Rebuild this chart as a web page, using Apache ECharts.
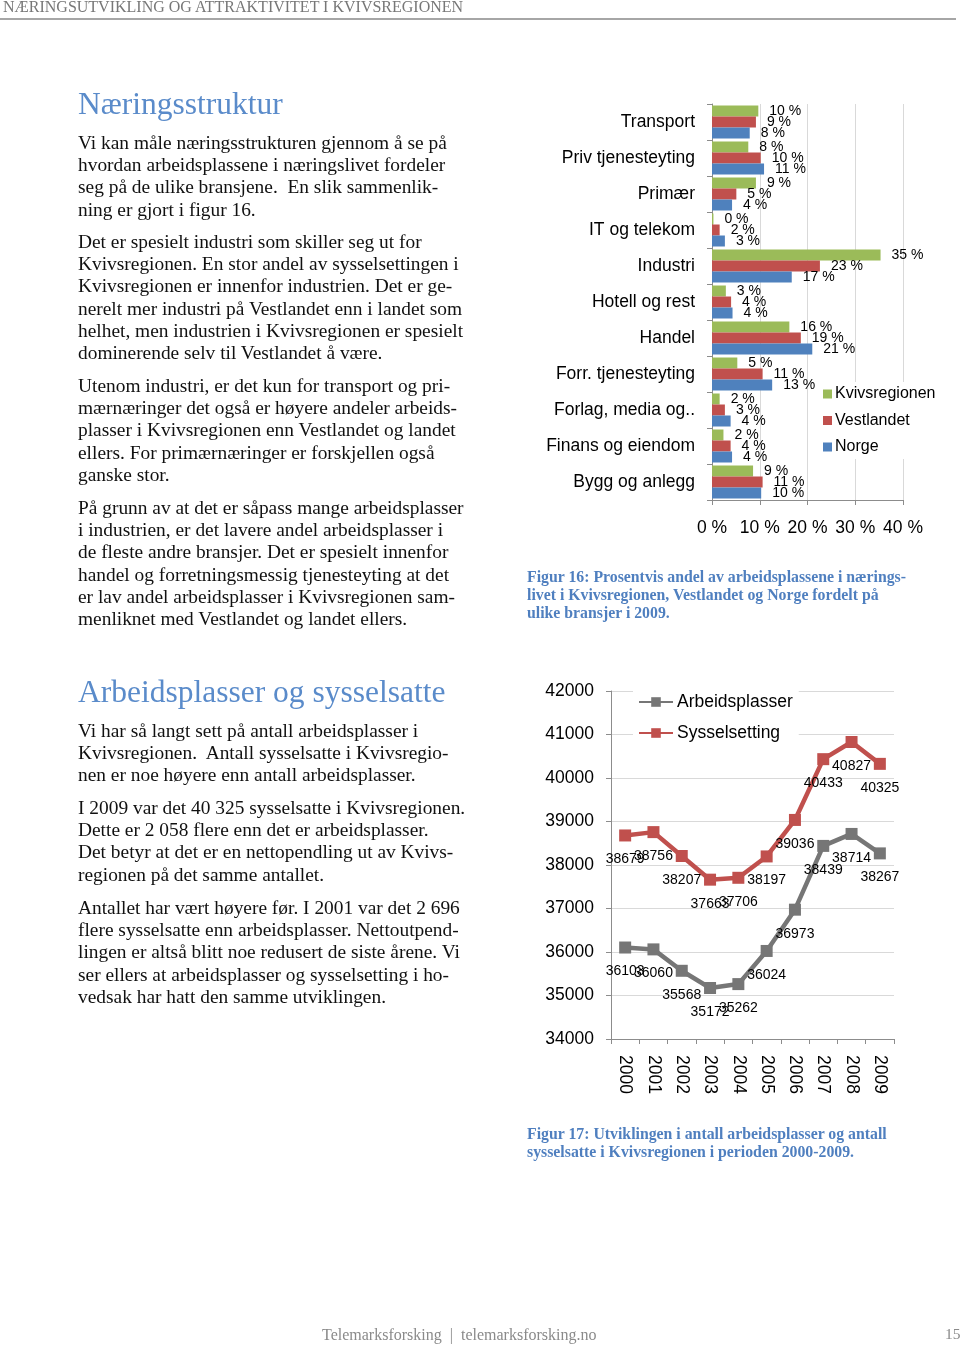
<!DOCTYPE html>
<html>
<head>
<meta charset="utf-8">
<script src="https://cdn.jsdelivr.net/npm/echarts@6/dist/echarts.min.js"></script>
<style>
  html, body { margin: 0; padding: 0; background: #fff; }
  #page { position: relative; width: 960px; height: 1345px; overflow: hidden; }
  #chart { position: absolute; left: 0; top: 0; width: 960px; height: 1345px; }
  .t { position: absolute; white-space: pre; font-family: 'Liberation Serif', 'Times New Roman', serif; color: #111; z-index: 2; }
  .body { font-size: 19.4px; line-height: 22px; left: 78px; }
  .h { font-size: 31.5px; line-height: 34px; left: 78px; color: #5a8bca; }
  .cap { font-size: 15.8px; line-height: 18px; left: 527px; color: #4f7fbf; font-weight: bold; }
  #rule { position: absolute; left: 0; top: 18px; width: 956px; height: 2px; background: #a6a6a6; }
</style>
</head>
<body>
<div id="page">
  <div id="chart"></div>
  <div id="rule"></div>
</div>
<script>
// ---------- Data ----------
const categories = ['Transport', 'Priv tjenesteyting', 'Primær', 'IT og telekom', 'Industri', 'Hotell og rest', 'Handel', 'Forr. tjenesteyting', 'Forlag, media og..', 'Finans og eiendom', 'Bygg og anlegg'];
const kvivsregionen = [9.7, 7.6, 9.2, 0.3, 35.3, 2.9, 16.2, 5.3, 1.6, 2.4, 8.6];
const vestlandet   = [9.2, 10.2, 5.1, 1.6, 22.6, 4.0, 18.6, 10.6, 2.7, 3.9, 10.6];
const norge        = [7.9, 10.9, 4.2, 2.7, 16.7, 4.3, 21.0, 12.6, 3.9, 4.2, 10.3];
const barSeriesNames = ['Kvivsregionen', 'Vestlandet', 'Norge'];

const years = ['2000', '2001', '2002', '2003', '2004', '2005', '2006', '2007', '2008', '2009'];
const arbeidsplasser = [36103, 36060, 35568, 35172, 35262, 36024, 36973, 38439, 38714, 38267];
const sysselsetting  = [38679, 38756, 38207, 37663, 37706, 38197, 39036, 40433, 40827, 40325];
const lineSeriesNames = ['Arbeidsplasser', 'Sysselsetting'];

const headerText = 'NÆRINGSUTVIKLING OG ATTRAKTIVITET I KVIVSREGIONEN';
const heading1 = 'Næringsstruktur';
const heading2 = 'Arbeidsplasser og sysselsatte';
const paragraphs1 = [
  ['Vi kan måle næringsstrukturen gjennom å se på', 'hvordan arbeidsplassene i næringslivet fordeler', 'seg på de ulike bransjene.  En slik sammenlik-', 'ning er gjort i figur 16.'],
  ['Det er spesielt industri som skiller seg ut for', 'Kvivsregionen. En stor andel av sysselsettingen i', 'Kvivsregionen er innenfor industrien. Det er ge-', 'nerelt mer industri på Vestlandet enn i landet som', 'helhet, men industrien i Kvivsregionen er spesielt', 'dominerende selv til Vestlandet å være.'],
  ['Utenom industri, er det kun for transport og pri-', 'mærnæringer det også er høyere andeler arbeids-', 'plasser i Kvivsregionen enn Vestlandet og landet', 'ellers. For primærnæringer er forskjellen også', 'ganske stor.'],
  ['På grunn av at det er såpass mange arbeidsplasser', 'i industrien, er det lavere andel arbeidsplasser i', 'de fleste andre bransjer. Det er spesielt innenfor', 'handel og forretningsmessig tjenesteyting at det', 'er lav andel arbeidsplasser i Kvivsregionen sam-', 'menliknet med Vestlandet og landet ellers.']
];
const paragraphs2 = [
  ['Vi har så langt sett på antall arbeidsplasser i', 'Kvivsregionen.  Antall sysselsatte i Kvivsregio-', 'nen er noe høyere enn antall arbeidsplasser.'],
  ['I 2009 var det 40 325 sysselsatte i Kvivsregionen.', 'Dette er 2 058 flere enn det er arbeidsplasser.', 'Det betyr at det er en nettopendling ut av Kvivs-', 'regionen på det samme antallet.'],
  ['Antallet har vært høyere før. I 2001 var det 2 696', 'flere sysselsatte enn arbeidsplasser. Nettoutpend-', 'lingen er altså blitt noe redusert de siste årene. Vi', 'ser ellers at arbeidsplasser og sysselsetting i ho-', 'vedsak har hatt den samme utviklingen.']
];
const caption1 = ['Figur 16: Prosentvis andel av arbeidsplassene i nærings-', 'livet i Kvivsregionen, Vestlandet og Norge fordelt på', 'ulike bransjer i 2009.'];
const caption2 = ['Figur 17: Utviklingen i antall arbeidsplasser og antall', 'sysselsatte i Kvivsregionen i perioden 2000-2009.'];
const footerText = 'Telemarksforsking  |  telemarksforsking.no';
const pageNumber = '15';

// ---------- Text layout ----------
const page = document.getElementById('page');
function addText(txt, cls, top, left, extraStyle) {
  const d = document.createElement('div');
  d.className = 't ' + cls;
  d.textContent = txt;
  d.style.top = top + 'px';
  if (left !== undefined && left !== null) d.style.left = left + 'px';
  if (extraStyle) Object.assign(d.style, extraStyle);
  page.appendChild(d);
}
addText(headerText, '', -2, 3, { fontSize: '16px', lineHeight: '18px', color: '#777' });
addText(heading1, 'h', 104 - 17);
addText(heading2, 'h', 692 - 17);
function addParas(paras, starts) {
  paras.forEach((p, i) => {
    p.forEach((line, j) => addText(line, 'body', starts[i] + j * 22.2 - 12));
  });
}
addParas(paragraphs1, [144, 243, 387, 509]);
addParas(paragraphs2, [732, 809, 909]);
caption1.forEach((l, i) => addText(l, 'cap', 577 + i * 18 - 9));
caption2.forEach((l, i) => addText(l, 'cap', 1134 + i * 18 - 9));
addText(footerText, '', 1326, 322, { fontSize: '16px', lineHeight: '18px', color: '#8a8a8a' });
addText(pageNumber, '', 1325, 945, { fontSize: '15.5px', lineHeight: '18px', color: '#8a8a8a' });

// ---------- Chart ----------
const chart = echarts.init(document.getElementById('chart'), null, { renderer: 'canvas' });
const FONT = "'Liberation Sans', Arial, sans-serif";
const barColors = ['#9bbb59', '#c0504d', '#4f81bd'];
const axisGray = '#8c8c8c';
const gridGray = '#d9d9d9';

const barData = [kvivsregionen, vestlandet, norge];
const barSeries = barData.map((d, i) => ({
  name: barSeriesNames[i],
  type: 'bar',
  xAxisIndex: 0, yAxisIndex: 0,
  data: d,
  barWidth: 11,
  barGap: '0%',
  itemStyle: { color: barColors[i] },
  label: {
    show: true, position: 'right', distance: 11,
    formatter: p => Math.round(p.value) + ' %',
    fontFamily: FONT, fontSize: 14, color: '#000'
  }
}));

const lineColors = ['#767676', '#c0504d'];
const lineSeries = [arbeidsplasser, sysselsetting].map((d, i) => ({
  name: lineSeriesNames[i],
  type: 'line',
  xAxisIndex: 1, yAxisIndex: 1,
  data: d,
  symbol: 'rect', symbolSize: 12,
  lineStyle: { width: 4.5, color: lineColors[i] },
  itemStyle: { color: lineColors[i] },
  label: { show: true, position: 'bottom', distance: 11, fontFamily: FONT, fontSize: 14, color: '#000' }
}));

chart.setOption({
  animation: false,
  textStyle: { fontFamily: FONT },
  grid: [
    { left: 712, top: 104, width: 191, height: 396, containLabel: false },
    { left: 611, top: 691, width: 283, height: 348, containLabel: false }
  ],
  legend: [
    {
      data: barSeriesNames, orient: 'vertical', left: 818, top: 382,
      icon: 'rect', itemWidth: 9, itemHeight: 9, itemGap: 8.5,
      textStyle: { fontFamily: FONT, fontSize: 16, color: '#000', lineHeight: 18, padding: [0, 0, 0, -2] },
      backgroundColor: '#fff', padding: [3, 6, 3, 5]
    },
    {
      data: lineSeriesNames, orient: 'vertical', left: 633, top: 690,
      itemWidth: 34, itemHeight: 12, itemGap: 13,
      textStyle: { fontFamily: FONT, fontSize: 17.5, color: '#000', lineHeight: 18, padding: [0, 0, 0, -1] },
      backgroundColor: '#fff', padding: [3, 6, 3, 5]
    }
  ],
  xAxis: [
    {
      type: 'value', gridIndex: 0, min: 0, max: 40, interval: 10,
      axisLine: { show: true, lineStyle: { color: axisGray } },
      axisTick: { show: true, length: 5, lineStyle: { color: axisGray } },
      axisLabel: { formatter: '{value} %', fontSize: 17.5, color: '#000', margin: 19 },
      splitLine: { show: true, lineStyle: { color: gridGray } }
    },
    {
      type: 'category', gridIndex: 1, data: years, boundaryGap: true,
      axisLine: { show: true, lineStyle: { color: axisGray } },
      axisTick: { show: true, length: 5, lineStyle: { color: axisGray } },
      axisLabel: { rotate: -90, fontSize: 17.5, color: '#000', margin: 16 },
      splitLine: { show: false }
    }
  ],
  yAxis: [
    {
      type: 'category', gridIndex: 0, data: categories, inverse: true,
      axisLine: { show: true, lineStyle: { color: axisGray } },
      axisTick: { show: true, length: 5, lineStyle: { color: axisGray } },
      axisLabel: { fontSize: 17.5, color: '#000', margin: 17 },
      splitLine: { show: false }
    },
    {
      type: 'value', gridIndex: 1, min: 34000, max: 42000, interval: 1000,
      axisLine: { show: true, lineStyle: { color: axisGray } },
      axisTick: { show: true, length: 5, lineStyle: { color: axisGray } },
      axisLabel: { fontSize: 17.5, color: '#000', margin: 17, formatter: v => String(v) },
      splitLine: { show: true, lineStyle: { color: gridGray } }
    }
  ],
  series: barSeries.concat(lineSeries)
});
</script>
</body>
</html>
